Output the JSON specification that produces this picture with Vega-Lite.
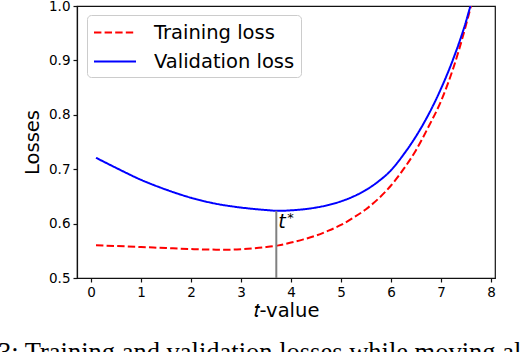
{
  "$schema": "https://vega.github.io/schema/vega-lite/v6.json",
  "width": 418,
  "height": 272,
  "autosize": {"type": "none"},
  "padding": {"left": 77, "top": 6, "right": 33, "bottom": 74},
  "background": "white",
  "title": {
    "text": "3:  Training and validation losses while moving al",
    "orient": "bottom",
    "anchor": "start",
    "frame": "group",
    "font": "Liberation Serif",
    "fontSize": 26.5,
    "fontWeight": "normal",
    "color": "black",
    "baseline": "top",
    "dx": -79,
    "offset": 20
  },
  "datasets": {
    "losses": [
      {"t": 0.1, "loss": 0.56, "series": "Training loss"},
      {"t": 0.5, "loss": 0.5588, "series": "Training loss"},
      {"t": 1.0, "loss": 0.557, "series": "Training loss"},
      {"t": 1.5, "loss": 0.555, "series": "Training loss"},
      {"t": 2.0, "loss": 0.5532, "series": "Training loss"},
      {"t": 2.5, "loss": 0.5521, "series": "Training loss"},
      {"t": 2.75, "loss": 0.552, "series": "Training loss"},
      {"t": 3.0, "loss": 0.5528, "series": "Training loss"},
      {"t": 3.25, "loss": 0.5545, "series": "Training loss"},
      {"t": 3.5, "loss": 0.5568, "series": "Training loss"},
      {"t": 3.75, "loss": 0.56, "series": "Training loss"},
      {"t": 4.0, "loss": 0.5651, "series": "Training loss"},
      {"t": 4.25, "loss": 0.571, "series": "Training loss"},
      {"t": 4.5, "loss": 0.578, "series": "Training loss"},
      {"t": 4.75, "loss": 0.587, "series": "Training loss"},
      {"t": 5.0, "loss": 0.5975, "series": "Training loss"},
      {"t": 5.25, "loss": 0.611, "series": "Training loss"},
      {"t": 5.5, "loss": 0.6265, "series": "Training loss"},
      {"t": 5.75, "loss": 0.646, "series": "Training loss"},
      {"t": 6.0, "loss": 0.67, "series": "Training loss"},
      {"t": 6.25, "loss": 0.7, "series": "Training loss"},
      {"t": 6.5, "loss": 0.735, "series": "Training loss"},
      {"t": 6.75, "loss": 0.778, "series": "Training loss"},
      {"t": 7.0, "loss": 0.825, "series": "Training loss"},
      {"t": 7.25, "loss": 0.887, "series": "Training loss"},
      {"t": 7.5, "loss": 0.965, "series": "Training loss"},
      {"t": 7.6, "loss": 1.0, "series": "Training loss"},
      {"t": 7.7, "loss": 1.038, "series": "Training loss"},
      {"t": 0.1, "loss": 0.721, "series": "Validation loss"},
      {"t": 0.5, "loss": 0.7025, "series": "Validation loss"},
      {"t": 1.0, "loss": 0.6805, "series": "Validation loss"},
      {"t": 1.5, "loss": 0.6625, "series": "Validation loss"},
      {"t": 2.0, "loss": 0.6475, "series": "Validation loss"},
      {"t": 2.5, "loss": 0.6365, "series": "Validation loss"},
      {"t": 3.0, "loss": 0.6295, "series": "Validation loss"},
      {"t": 3.5, "loss": 0.625, "series": "Validation loss"},
      {"t": 3.75, "loss": 0.6235, "series": "Validation loss"},
      {"t": 4.0, "loss": 0.6244, "series": "Validation loss"},
      {"t": 4.25, "loss": 0.6263, "series": "Validation loss"},
      {"t": 4.5, "loss": 0.6295, "series": "Validation loss"},
      {"t": 4.75, "loss": 0.6342, "series": "Validation loss"},
      {"t": 5.0, "loss": 0.6409, "series": "Validation loss"},
      {"t": 5.25, "loss": 0.6499, "series": "Validation loss"},
      {"t": 5.5, "loss": 0.6619, "series": "Validation loss"},
      {"t": 5.75, "loss": 0.6777, "series": "Validation loss"},
      {"t": 6.0, "loss": 0.698, "series": "Validation loss"},
      {"t": 6.25, "loss": 0.7268, "series": "Validation loss"},
      {"t": 6.5, "loss": 0.7605, "series": "Validation loss"},
      {"t": 6.75, "loss": 0.8005, "series": "Validation loss"},
      {"t": 7.0, "loss": 0.848, "series": "Validation loss"},
      {"t": 7.25, "loss": 0.904, "series": "Validation loss"},
      {"t": 7.5, "loss": 0.9715, "series": "Validation loss"},
      {"t": 7.7, "loss": 1.04, "series": "Validation loss"}
    ],
    "tstar": [
      {"t": 3.706, "lo": 0.5, "hi": 0.6235, "label": "t", "star": "*", "ly": 0.591}
    ]
  },
  "layer": [
    {
      "data": {"name": "losses"},
      "mark": {"type": "line", "strokeWidth": 2, "clip": true, "interpolate": "monotone"},
      "encoding": {
        "x": {
          "field": "t", "type": "quantitative",
          "scale": {"domain": [-0.28, 8.08], "nice": false, "zero": false},
          "axis": {"values": [0, 1, 2, 3, 4, 5, 6, 7, 8], "title": "𝑡-value"}
        },
        "y": {
          "field": "loss", "type": "quantitative",
          "scale": {"domain": [0.5, 1.0], "nice": false, "zero": false},
          "axis": {"values": [0.5, 0.6, 0.7, 0.8, 0.9, 1.0], "format": ".1f", "title": "Losses", "titlePadding": 6}
        },
        "color": {
          "field": "series", "type": "nominal",
          "scale": {"domain": ["Training loss", "Validation loss"], "range": ["#ff0000", "#0000ff"]},
          "legend": {"title": null}
        },
        "strokeDash": {
          "field": "series", "type": "nominal",
          "scale": {"domain": ["Training loss", "Validation loss"], "range": [[7.4, 3.2], [1, 0]]},
          "legend": {"title": null}
        }
      }
    },
    {
      "data": {"name": "tstar"},
      "mark": {"type": "rule", "color": "#808080", "strokeWidth": 2},
      "encoding": {
        "x": {"field": "t", "type": "quantitative"},
        "y": {"field": "lo", "type": "quantitative"},
        "y2": {"field": "hi"}
      }
    },
    {
      "data": {"name": "tstar"},
      "mark": {"type": "text", "font": "DejaVu Sans", "fontStyle": "italic", "fontSize": 19, "align": "left", "baseline": "alphabetic", "dx": 2, "color": "black"},
      "encoding": {
        "x": {"field": "t", "type": "quantitative"},
        "y": {"field": "ly", "type": "quantitative"},
        "text": {"field": "label"}
      }
    },
    {
      "data": {"name": "tstar"},
      "mark": {"type": "text", "font": "DejaVu Sans", "fontSize": 13, "align": "left", "baseline": "alphabetic", "dx": 11, "dy": -6, "color": "black"},
      "encoding": {
        "x": {"field": "t", "type": "quantitative"},
        "y": {"field": "ly", "type": "quantitative"},
        "text": {"field": "star"}
      }
    }
  ],
  "config": {
    "font": "DejaVu Sans",
    "view": {"stroke": "#111111", "strokeWidth": 1.2},
    "axis": {
      "grid": false,
      "domainColor": "#111111",
      "domainWidth": 1.2,
      "tickColor": "#111111",
      "tickSize": 4,
      "tickWidth": 1.2,
      "labelFont": "DejaVu Sans",
      "labelFontSize": 13.5,
      "labelColor": "black",
      "labelPadding": 3,
      "titleFont": "DejaVu Sans",
      "titleFontSize": 19.5,
      "titleFontWeight": "normal",
      "titleColor": "black",
      "titlePadding": 3
    },
    "legend": {
      "orient": "none",
      "legendX": 10,
      "legendY": 9,
      "padding": 6,
      "strokeColor": "#cccccc",
      "fillColor": "rgba(255,255,255,0.8)",
      "cornerRadius": 4,
      "symbolType": "M-1,0L3,0",
      "symbolSize": 441,
      "symbolStrokeWidth": 2,
      "labelFont": "DejaVu Sans",
      "labelFontSize": 19.5,
      "labelColor": "black",
      "labelOffset": 38,
      "rowPadding": 8
    }
  }
}
